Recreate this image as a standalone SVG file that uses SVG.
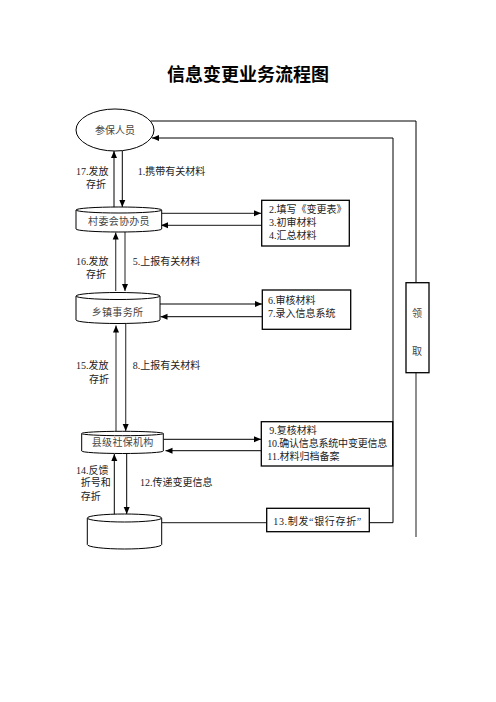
<svg xmlns="http://www.w3.org/2000/svg" width="496" height="702" viewBox="0 0 496 702">
<style>
  .t{font-family:"Liberation Serif","Noto Sans CJK SC",serif;font-size:10px;fill:#222;}
  .n{font-family:"Liberation Serif","Noto Sans CJK SC",serif;font-size:10px;fill:#444;text-anchor:middle;dominant-baseline:central;}
  .title{font-family:"Noto Sans CJK SC",sans-serif;font-size:18px;font-weight:bold;fill:#000;text-anchor:middle;dominant-baseline:central;}
  .box{fill:#fff;stroke:#000;stroke-width:1.3;}
  .cyl{fill:#fff;stroke:#000;stroke-width:1;}
  .ln{fill:none;stroke:#000;stroke-width:1;}
  .ln2{fill:none;stroke:#444;stroke-width:1.2;}
</style>
<defs>
  <marker id="ah" markerUnits="userSpaceOnUse" markerWidth="8" markerHeight="8" viewBox="0 0 8 8" refX="7" refY="4" orient="auto">
    <path d="M0,1 L7,4 L0,7 Z" fill="#000"/>
  </marker>
</defs>
<rect width="496" height="702" fill="#fff"/>
<text class="title" x="248" y="73">信息变更业务流程图</text>

<g id="connectors">
  <polyline class="ln" points="150.5,121 416,121 416,283"/>
  <line class="ln2" x1="416" y1="373" x2="416" y2="537"/>
  <polyline class="ln" points="369,522.7 393,522.7 393,138 152,138" marker-end="url(#ah)"/>
  <line class="ln2" x1="162" y1="522.7" x2="266.7" y2="522.7"/>

  <line class="ln" x1="114" y1="208" x2="114" y2="151" marker-end="url(#ah)"/>
  <line class="ln" x1="122.3" y1="150.7" x2="122.3" y2="207" marker-end="url(#ah)"/>
  <line class="ln2" x1="115.7" y1="291" x2="115.7" y2="232.5" marker-end="url(#ah)"/>
  <line class="ln2" x1="125" y1="232" x2="125" y2="291" marker-end="url(#ah)"/>
  <line class="ln2" x1="116" y1="431" x2="116" y2="325.5" marker-end="url(#ah)"/>
  <line class="ln2" x1="125.7" y1="324" x2="125.7" y2="431" marker-end="url(#ah)"/>
  <line class="ln" x1="114.3" y1="515" x2="114.3" y2="454" marker-end="url(#ah)"/>
  <line class="ln" x1="126.7" y1="453" x2="126.7" y2="514" marker-end="url(#ah)"/>

  <line class="ln2" x1="161.5" y1="213.3" x2="261" y2="213.3" marker-end="url(#ah)"/>
  <line class="ln2" x1="261.7" y1="225.3" x2="161" y2="225.3" marker-end="url(#ah)"/>
  <line class="ln" x1="160" y1="304" x2="262" y2="304" marker-end="url(#ah)"/>
  <line class="ln" x1="262.3" y1="316.7" x2="160.5" y2="316.7" marker-end="url(#ah)"/>
  <line class="ln" x1="163.5" y1="439.3" x2="261" y2="439.3" marker-end="url(#ah)"/>
  <line class="ln" x1="261.3" y1="450.7" x2="165.5" y2="450.7" marker-end="url(#ah)"/>

  <text class="t" x="76" y="174.5">17.发放</text>
  <text class="t" x="86" y="187.5">存折</text>
  <text class="t" x="137.7" y="174.5">1.携带有关材料</text>
  <text class="t" x="76" y="264.5">16.发放</text>
  <text class="t" x="86" y="277.5">存折</text>
  <text class="t" x="132.7" y="264.5">5.上报有关材料</text>
  <text class="t" x="76" y="369">15.发放</text>
  <text class="t" x="89" y="382.5">存折</text>
  <text class="t" x="132.7" y="369">8.上报有关材料</text>
  <text class="t" x="76" y="473.5">14.反馈</text>
  <text class="t" x="80.7" y="486">折号和</text>
  <text class="t" x="80.7" y="499.5">存折</text>
  <text class="t" x="140" y="486">12.传递变更信息</text>
</g>

<g id="n-canbao">
  <ellipse cx="115" cy="130" rx="39" ry="21" fill="#fff" stroke="#000" stroke-width="1"/>
  <text class="n" x="115" y="130">参保人员</text>
</g>

<g id="n-cunwei">
  <path class="cyl" d="M76,210 A42.8,3 0 0 1 161.7,210 L161.7,229 A42.8,3 0 0 1 76,229 Z"/>
  <path class="cyl" d="M76,210 A42.8,3 0 0 0 161.7,210"/>
  <text class="n" x="119" y="221" letter-spacing="0.3">村委会协办员</text>
</g>

<g id="n-xiangzhen">
  <path class="cyl" d="M76,296 A42,3.5 0 0 1 160,296 L160,320 A42,3.5 0 0 1 76,320 Z"/>
  <path class="cyl" d="M76,296 A42,3.5 0 0 0 160,296"/>
  <text class="n" x="117.5" y="312" letter-spacing="0.3">乡镇事务所</text>
</g>

<g id="n-xianji">
  <path class="cyl" d="M81.7,433.5 A40.8,2.2 0 0 1 163.3,433.5 L163.3,451 A40.8,2.5 0 0 1 81.7,451 Z"/>
  <path class="cyl" d="M81.7,433.5 A40.8,2.2 0 0 0 163.3,433.5"/>
  <text class="n" x="122.7" y="442.5" letter-spacing="0.3">县级社保机构</text>
</g>

<g id="n-bank">
  <path class="cyl" d="M87.3,518 A37.2,4 0 0 1 161.7,518 L161.7,544.5 A37.2,4.5 0 0 1 87.3,544.5 Z"/>
  <path class="cyl" d="M87.3,518 A37.2,4 0 0 0 161.7,518"/>
</g>

<g id="n-box1">
  <rect class="box" x="261.7" y="200.3" width="87.6" height="45.7"/>
  <text class="t" x="269" y="212.5">2.填写《变更表》</text>
  <text class="t" x="269" y="225.5">3.初审材料</text>
  <text class="t" x="269" y="238.5">4.汇总材料</text>
</g>

<g id="n-box2">
  <rect class="box" x="262.3" y="290" width="88.4" height="39.3"/>
  <text class="t" x="268" y="304.3">6.审核材料</text>
  <text class="t" x="268" y="317">7.录入信息系统</text>
</g>

<g id="n-box3">
  <rect class="box" x="261.3" y="421.7" width="131.4" height="44.3"/>
  <text class="t" x="269.3" y="434.3">9.复核材料</text>
  <text class="t" x="267.3" y="447" textLength="120" lengthAdjust="spacing">10.确认信息系统中变更信息</text>
  <text class="t" x="267.3" y="460.3">11.材料归档备案</text>
</g>

<g id="n-box4">
  <rect class="box" x="266.7" y="508.3" width="102.6" height="23.4"/>
  <text class="t" x="273.3" y="525.3" textLength="88" lengthAdjust="spacing">13.制发“银行存折”</text>
</g>

<g id="n-lingqu">
  <rect class="box" x="406" y="282.7" width="23" height="90"/>
  <text class="n" x="417" y="313.3">领</text>
  <text class="n" x="417" y="351.7">取</text>
</g>
</svg>
